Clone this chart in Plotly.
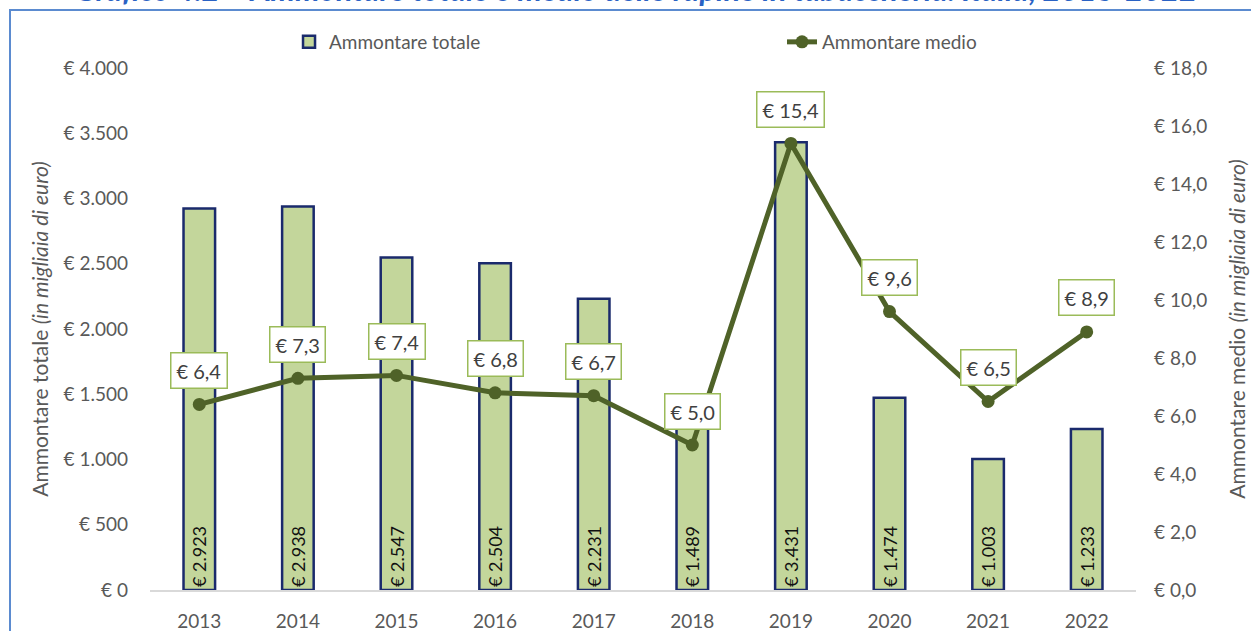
import plotly.graph_objects as go

years = [2013, 2014, 2015, 2016, 2017, 2018, 2019, 2020, 2021, 2022]
totale = [2923, 2938, 2547, 2504, 2231, 1489, 3431, 1474, 1003, 1233]
medio = [6.4, 7.3, 7.4, 6.8, 6.7, 5.0, 15.4, 9.6, 6.5, 8.9]

left_ticks = [0, 500, 1000, 1500, 2000, 2500, 3000, 3500, 4000]
left_labels = ["€ 0", "€ 500", "€ 1.000", "€ 1.500", "€ 2.000", "€ 2.500", "€ 3.000", "€ 3.500", "€ 4.000"]
right_ticks = [0, 2, 4, 6, 8, 10, 12, 14, 16, 18]
right_labels = ["€ 0,0", "€ 2,0", "€ 4,0", "€ 6,0", "€ 8,0", "€ 10,0", "€ 12,0", "€ 14,0", "€ 16,0", "€ 18,0"]

FONT = "Lato"
GREY = "#595959"

bar_text = ["€ " + f"{v:,}".replace(",", ".") for v in totale]
line_text = ["€ " + f"{v:.1f}".replace(".", ",") for v in medio]

fig = go.Figure()
fig.add_trace(go.Bar(
    x=years, y=totale, name="Ammontare totale",
    marker=dict(color="#c3d69b", line=dict(color="#1a2a6c", width=2.5)),
    width=0.32,
    text=bar_text, textposition="inside", insidetextanchor="start", textangle=-90,
    insidetextfont=dict(family=FONT, size=18, color="#111111"),
    yaxis="y", hoverinfo="skip",
))
fig.add_trace(go.Scatter(
    x=years, y=medio, name="Ammontare medio", mode="lines+markers",
    line=dict(color="#4f6228", width=5),
    marker=dict(color="#4f6228", size=13),
    yaxis="y2", hoverinfo="skip",
))

annotations = []
for yr, v, t in zip(years, medio, line_text):
    annotations.append(dict(
        x=yr, y=v, xref="x", yref="y2", text=t, showarrow=False,
        yshift=34, font=dict(family=FONT, size=20, color="#404040"),
        bgcolor="white", bordercolor="#9bbb59", borderwidth=1.5, borderpad=5,
    ))
annotations.append(dict(
    x=(636 - 150) / 986, y=(590 - 10) / 522, xref="paper", yref="paper", yanchor="bottom", xanchor="center",
    text="<b><i>Grafico 4.2 – Ammontare totale e medio delle rapine in tabaccheria. Italia, 2013-2022</i></b>",
    showarrow=False, font=dict(family=FONT, size=31, color="#2a62c4"),
))

fig.update_layout(
    width=1251, height=631,
    margin=dict(l=150, r=115, t=68, b=41, autoexpand=False),
    paper_bgcolor="white", plot_bgcolor="white",
    font=dict(family=FONT, color=GREY),
    showlegend=True,
    legend=dict(orientation="h", x=0.141, y=(590 - 42) / 522, yanchor="middle", xanchor="left",
                font=dict(family=FONT, size=19, color=GREY),
                entrywidth=448, entrywidthmode="pixels", bgcolor="rgba(0,0,0,0)"),
    xaxis=dict(range=[2012.5, 2022.5], tickvals=years, ticktext=[str(y) for y in years],
               showgrid=False, zeroline=False, showline=True, linecolor="#d9d9d9", linewidth=1.5,
               ticks="", ticklabelstandoff=13, tickfont=dict(family=FONT, size=19, color=GREY)),
    yaxis=dict(range=[0, 4000], tickvals=left_ticks, ticktext=left_labels, showgrid=False,
               zeroline=False, showline=False, ticks="", ticklabelstandoff=21,
               tickfont=dict(family=FONT, size=19, color=GREY),
               title=dict(text="Ammontare totale <i>(in migliaia di euro)</i>", standoff=9,
                          font=dict(family=FONT, size=21, color=GREY))),
    yaxis2=dict(range=[0, 18], tickvals=right_ticks, ticktext=right_labels, overlaying="y", side="right",
                showgrid=False, zeroline=False, showline=False, ticks="", ticklabelstandoff=17,
                tickfont=dict(family=FONT, size=19, color=GREY),
                title=dict(text="Ammontare medio <i>(in migliaia di euro)</i>", standoff=24,
                           font=dict(family=FONT, size=21, color=GREY))),
    annotations=annotations,
    shapes=[dict(type="rect", xref="paper", yref="paper",
                 x0=(10 - 150) / 986, x1=1.3, y0=-0.3, y1=(590 - 10) / 522,
                 line=dict(color="#5b8bd0", width=2), fillcolor="rgba(0,0,0,0)", layer="below")],
)

fig.write_html("out.html", config={"displayModeBar": False},
               post_script="document.body.style.margin='0';document.body.style.padding='0';")
